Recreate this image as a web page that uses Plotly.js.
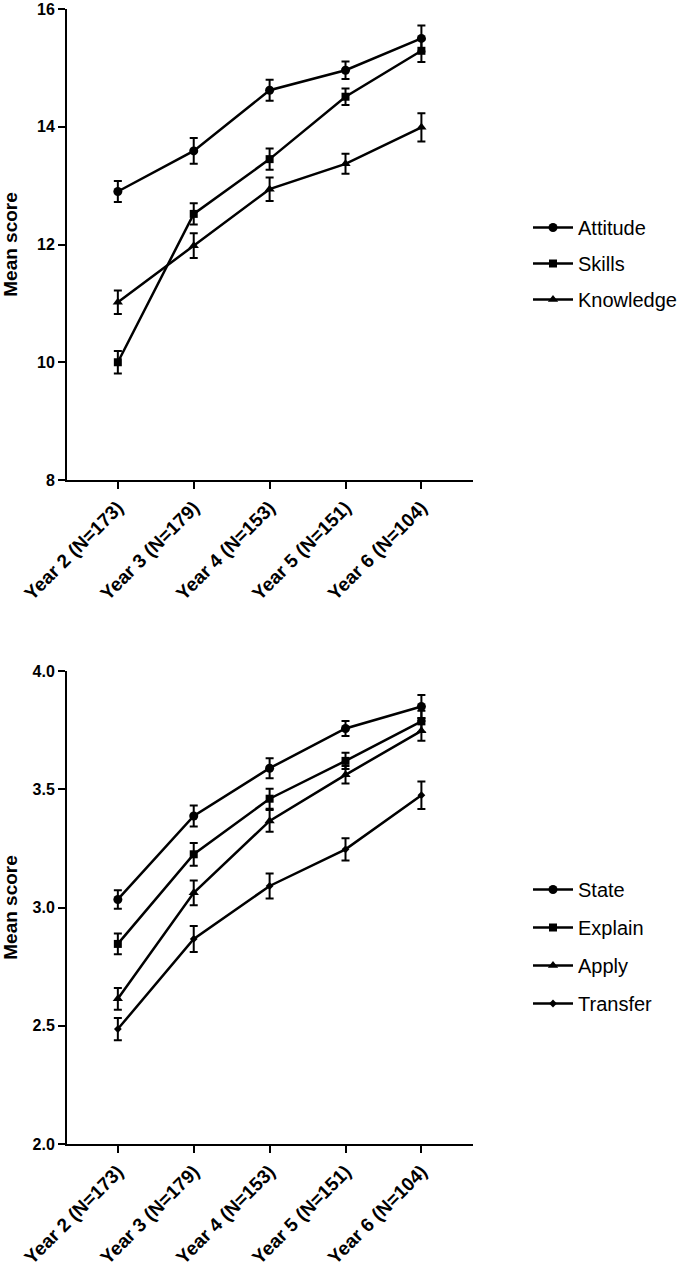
<!DOCTYPE html>
<html>
<head>
<meta charset="utf-8">
<script src="https://cdn.plot.ly/plotly-3.0.1.min.js"></script>
<style>html,body{margin:0;padding:0;background:#fff}</style>
</head>
<body>
<div id="chart" style="width:685px;height:1268px"></div>
<script>
var categories = ["Year 2 (N=173)", "Year 3 (N=179)", "Year 4 (N=153)", "Year 5 (N=151)", "Year 6 (N=104)"];

var attitude = [12.90, 13.59, 14.62, 14.96, 15.50];
var attitudeErr = [0.18, 0.22, 0.18, 0.15, 0.22];
var skills = [10.00, 12.52, 13.45, 14.51, 15.29];
var skillsErr = [0.19, 0.18, 0.18, 0.14, 0.19];
var knowledge = [11.02, 11.98, 12.94, 13.37, 13.99];
var knowledgeErr = [0.20, 0.21, 0.20, 0.17, 0.24];

var stateVals = [3.034, 3.387, 3.589, 3.757, 3.850];
var stateErr = [0.039, 0.044, 0.042, 0.032, 0.049];
var explainVals = [2.846, 3.225, 3.460, 3.620, 3.787];
var explainErr = [0.044, 0.048, 0.042, 0.034, 0.045];
var applyVals = [2.614, 3.062, 3.366, 3.561, 3.747];
var applyErr = [0.046, 0.052, 0.046, 0.037, 0.042];
var transferVals = [2.486, 2.867, 3.091, 3.246, 3.475];
var transferErr = [0.047, 0.055, 0.053, 0.047, 0.058];

var FONT = "Arial, 'Liberation Sans', sans-serif";

function series(name, y, err, symbol, size, xa, ya, leg) {
  return {
    type: "scatter", mode: "lines+markers", name: name,
    x: categories, y: y, xaxis: xa, yaxis: ya, legend: leg, legendgroup: name,
    line: {color: "#000", width: 2.5},
    marker: {symbol: symbol, size: size, color: "#000"},
    error_y: {type: "data", array: err, visible: true, color: "#000", thickness: 2, width: 4}
  };
}

var data = [
  series("Attitude", attitude, attitudeErr, "circle", 9, "x", "y", "legend"),
  series("Skills", skills, skillsErr, "square", 8, "x", "y", "legend"),
  series("Knowledge", knowledge, knowledgeErr, "triangle-up", 9, "x", "y", "legend"),
  series("State", stateVals, stateErr, "circle", 9, "x2", "y2", "legend2"),
  series("Explain", explainVals, explainErr, "square", 8, "x2", "y2", "legend2"),
  series("Apply", applyVals, applyErr, "triangle-up", 9, "x2", "y2", "legend2"),
  series("Transfer", transferVals, transferErr, "diamond", 6, "x2", "y2", "legend2")
];

var W = 685, H = 1268;
function px(x) { return x / W; }
function py(y) { return 1 - y / H; }

function xAxis(anchor) {
  return {
    domain: [px(67), px(473)], anchor: anchor, type: "category",
    range: [-0.67, 4.68], showline: true, linecolor: "#000", linewidth: 2,
    ticks: "outside", ticklen: 7, tickwidth: 2, tickcolor: "#000",
    tickangle: -45, showgrid: false, zeroline: false, automargin: false,
    ticklabeloverflow: "allow",
    tickfont: {family: FONT, size: 19, color: "#000", weight: "bold"}
  };
}
function yAxis(anchor, domain, range, dtick, fmt) {
  return {
    domain: domain, anchor: anchor, range: range, dtick: dtick, tick0: range[0],
    tickformat: fmt,
    showline: true, linecolor: "#000", linewidth: 2,
    ticks: "outside", ticklen: 7, tickwidth: 2, tickcolor: "#000",
    showgrid: false, zeroline: false, automargin: false,
    ticklabeloverflow: "allow",
    tickfont: {family: FONT, size: 16, color: "#000", weight: "bold"},
    title: {text: "Mean score", standoff: 14, font: {family: FONT, size: 19, color: "#000", weight: "bold"}}
  };
}

var layout = {
  width: W, height: H,
  margin: {l: 0, r: 0, t: 0, b: 0},
  paper_bgcolor: "#fff", plot_bgcolor: "#fff",
  font: {family: FONT, color: "#000"},
  showlegend: true,
  xaxis: xAxis("y"),
  yaxis: yAxis("x", [py(480), py(9)], [8, 16], 2, ""),
  xaxis2: xAxis("y2"),
  yaxis2: yAxis("x2", [py(1144), py(671)], [2, 4], 0.5, ".1f"),
  legend: {x: px(528), y: py(208), xanchor: "left", yanchor: "top", bgcolor: "rgba(0,0,0,0)",
           font: {family: FONT, size: 20, color: "#000"}, tracegroupgap: 7, itemwidth: 40},
  legend2: {x: px(528), y: py(870), xanchor: "left", yanchor: "top", bgcolor: "rgba(0,0,0,0)",
           font: {family: FONT, size: 20, color: "#000"}, tracegroupgap: 9, itemwidth: 40}
};

Plotly.newPlot("chart", data, layout, {displayModeBar: false, staticPlot: true});
</script>
</body>
</html>
